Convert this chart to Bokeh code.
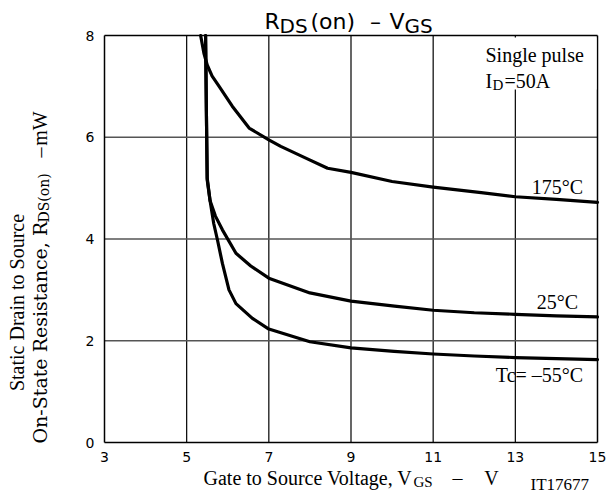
import math
from bokeh.plotting import figure
from bokeh.models import Label, Range1d, FixedTicker, BoxAnnotation, LinearAxis
from bokeh.embed import file_html
from bokeh.resources import INLINE

# ---- data ----
x_ticks = [3, 5, 7, 9, 11, 13, 15]
y_ticks = [0, 2, 4, 6, 8]

v_175 = [5.34, 5.42, 5.50, 5.62, 5.79, 6.11, 6.52, 7.0, 7.29, 7.9, 8.43, 9.0, 10.0, 11.0, 12.17, 13.0, 14.0, 15.0]
r_175 = [8.00, 7.65, 7.42, 7.20, 7.00, 6.61, 6.18, 5.95, 5.82, 5.59, 5.39, 5.31, 5.13, 5.02, 4.91, 4.83, 4.78, 4.72]

v_25 = [5.46, 5.48, 5.50, 5.57, 5.70, 5.87, 6.20, 6.56, 7.0, 8.0, 9.0, 10.06, 11.0, 12.0, 13.0, 14.0, 15.0]
r_25 = [8.00, 6.50, 5.20, 4.75, 4.45, 4.18, 3.72, 3.47, 3.23, 2.94, 2.78, 2.68, 2.60, 2.55, 2.52, 2.49, 2.47]

v_m55 = [5.46, 5.48, 5.50, 5.57, 5.66, 5.75, 5.87, 6.03, 6.20, 6.60, 7.0, 8.0, 9.0, 10.05, 11.0, 12.0, 13.0, 14.0, 15.0]
r_m55 = [8.00, 6.50, 5.16, 4.75, 4.30, 3.98, 3.52, 3.00, 2.73, 2.44, 2.23, 1.98, 1.86, 1.79, 1.74, 1.70, 1.67, 1.65, 1.63]

# ---- layout (canvas pixels) ----
W, H = 609, 498
FL, FR, FT, FB = 104, 597, 35, 442   # plot-area edges on the canvas
kx = (FR - FL) / (x_ticks[-1] - x_ticks[0])
ky = (FB - FT) / (y_ticks[-1] - y_ticks[0])

p = figure(width=W, height=H, output_backend="svg", toolbar_location=None,
           x_range=Range1d(x_ticks[0] - FL / kx, x_ticks[0] + (W - FL) / kx),
           y_range=Range1d(y_ticks[0] - (H - FB) / ky, y_ticks[-1] + FT / ky),
           x_axis_location=None, y_axis_location=None)
p.min_border = 0
p.title.visible = False
p.background_fill_color = "white"
p.border_fill_color = "white"
p.outline_line_color = None
p.xgrid.visible = False
p.ygrid.visible = False

# grid lines (drawn from the tick lists)
gx = x_ticks[1:-1]
p.segment(x0=gx, x1=gx, y0=[y_ticks[0]] * len(gx), y1=[y_ticks[-1]] * len(gx),
          line_color="black", line_width=1.2)
gy = y_ticks[1:-1]
p.segment(x0=[x_ticks[0]] * len(gy), x1=[x_ticks[-1]] * len(gy), y0=gy, y1=gy,
          line_color="#555555", line_width=1.5)

# curves
for v, r in ((v_175, r_175), (v_25, r_25), (v_m55, r_m55)):
    p.line(v, r, line_color="black", line_width=3.2, line_join="round", line_cap="round")


def style_axis(ax, ticks):
    ax.ticker = FixedTicker(ticks=ticks)
    ax.major_tick_line_color = None
    ax.minor_tick_line_color = None
    ax.axis_line_color = "black"
    ax.axis_line_width = 1.5
    ax.major_label_text_font = "DejaVu Sans"
    ax.major_label_text_font_size = "14px"
    ax.major_label_text_color = "black"
    ax.major_label_standoff = 4


xa = LinearAxis(fixed_location=y_ticks[0], bounds=(x_ticks[0], x_ticks[-1]))
style_axis(xa, x_ticks)
xa.major_label_standoff = 3
p.add_layout(xa, "below")
ya = LinearAxis(fixed_location=x_ticks[0], bounds=(y_ticks[0], y_ticks[-1]))
style_axis(ya, y_ticks)
p.add_layout(ya, "left")
ta = LinearAxis(fixed_location=y_ticks[-1], bounds=(x_ticks[0], x_ticks[-1]))
style_axis(ta, [])
p.add_layout(ta, "above")
ra = LinearAxis(fixed_location=x_ticks[-1], bounds=(y_ticks[0], y_ticks[-1]))
style_axis(ra, [])
p.add_layout(ra, "right")


def lab(text, cx, cy, size, font="Liberation Serif", align="left", baseline="alphabetic", angle=0.0):
    p.add_layout(Label(x=cx, y=H - cy, x_units="screen", y_units="screen", text=text,
                       text_font=font, text_font_size=f"{size}px", text_color="black",
                       text_align=align, text_baseline=baseline, angle=angle))


# white box behind the condition note
p.add_layout(BoxAnnotation(left=480, right=596, top=H - 37, bottom=H - 89,
                           left_units="screen", right_units="screen", top_units="screen",
                           bottom_units="screen", fill_color="white", fill_alpha=1.0,
                           line_color=None))

# title
lab("R", 264, 21, 22, "DejaVu Sans")
lab("DS", 279, 25, 20, "DejaVu Sans")
lab("(on)", 310, 21, 22, "DejaVu Sans")
lab("\u2013", 375, 21, 22, "DejaVu Sans", align="center")
lab("V", 389, 21, 22, "DejaVu Sans")
lab("GS", 404, 25, 20, "DejaVu Sans")

# condition note
lab("Single pulse", 485, 54, 20)
lab("I", 485, 80, 20)
lab("D", 492, 84, 15)
lab("=50A", 504, 80, 20)

# curve labels
lab("175\u00b0C", 557, 186, 20, align="center", baseline="middle")
lab("25\u00b0C", 557, 301, 20, align="center", baseline="middle")
lab("Tc= \u201355\u00b0C", 539, 374, 20, align="center", baseline="middle")

# x axis title
lab("Gate to Source Voltage, V", 203, 477, 20)
lab("GS", 413, 481, 15)
lab("\u2013", 457, 477, 20, align="center")
lab("V", 491, 477, 20, align="center")
lab("IT17677", 530, 484, 17)

# y axis title (rotated)
up = math.pi / 2
lab("Static Drain to Source", 16, 302, 20, align="center", angle=up)
lab("On-State Resistance, R", 39, 443, 19, "DejaVu Serif", angle=up)
lab("DS(on)", 43, 222, 14, "DejaVu Serif", angle=up)
lab("\u2013", 39, 152, 20, align="center", angle=up)
lab("mW", 39, 128, 20, align="center", angle=up)

open("out.html", "w").write(file_html(p, INLINE))
